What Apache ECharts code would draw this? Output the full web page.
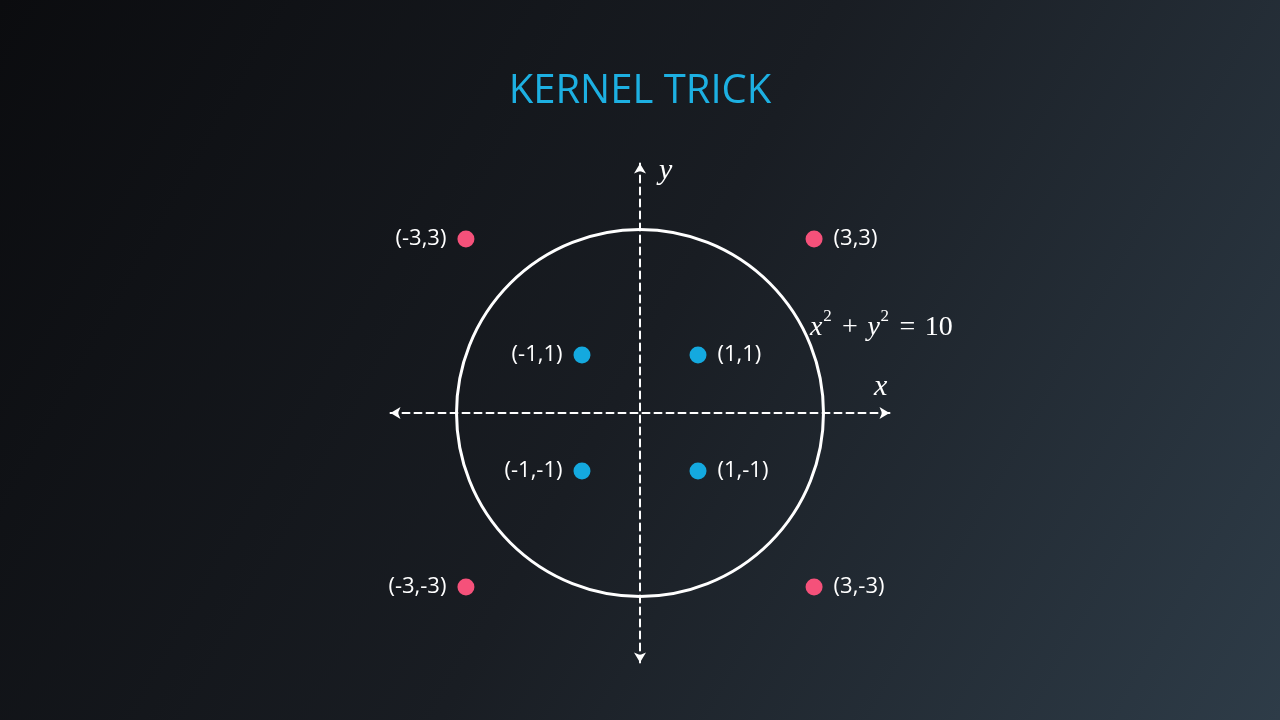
<!DOCTYPE html>
<html>
<head>
<meta charset="UTF-8">
<title>Kernel trick</title>
<script src="https://cdn.jsdelivr.net/npm/echarts@6/dist/echarts.min.js"></script>
<style>
  html, body { margin: 0; padding: 0; background: #15181d; }
  #main { width: 1280px; height: 720px; }
</style>
</head>
<body>
<div id="main"></div>
<script>
// points inside the circle (class A) and outside it (class B)
var innerPoints = [[-1, 1], [1, 1], [-1, -1], [1, -1]];
var outerPoints = [[-3, 3], [3, 3], [-3, -3], [3, -3]];
// separating circle x^2 + y^2 = 10
var circleR2 = 10;
var axisMin = -4.3, axisMax = 4.3;

function toItems(pts) {
  return pts.map(function (p) {
    return { value: p, label: { position: p[0] < 0 ? 'left' : 'right' } };
  });
}

var chart = echarts.init(document.getElementById('main'));

var axisCommon = {
  type: 'value',
  min: axisMin,
  max: axisMax,
  axisLine: {
    show: true,
    onZero: true,
    symbol: ['arrow', 'arrow'],
    symbolSize: [9, 10],
    lineStyle: { color: '#ffffff', width: 2, type: [7, 5] }
  },
  axisTick: { show: false },
  axisLabel: { show: false },
  splitLine: { show: false }
};

var pointLabel = {
  show: true,
  distance: 11,
  color: '#ffffff',
  fontSize: 22,
  fontFamily: 'Open Sans',
  formatter: function (p) { return '(' + p.value[0] + ',' + p.value[1] + ')'; }
};

var serif = 'Liberation Serif';

chart.setOption({
  backgroundColor: new echarts.graphic.LinearGradient(0, 0, 1, 1, [
    { offset: 0, color: '#0b0c0f' },
    { offset: 0.5, color: '#191d23' },
    { offset: 1, color: '#2e3c48' }
  ]),
  title: {
    text: 'KERNEL TRICK',
    left: 'center',
    top: 67,
    textStyle: { color: '#1db0e2', fontSize: 40, fontWeight: 'normal', fontFamily: 'Open Sans' }
  },
  grid: { left: 390.5, top: 163.5, width: 499, height: 499 },
  xAxis: axisCommon,
  yAxis: axisCommon,
  graphic: [
    { type: 'text', left: 874, top: 372,
      style: { text: 'x', fill: '#ffffff', font: 'italic 30px "Liberation Serif"' } },
    { type: 'text', left: 659, top: 156,
      style: { text: 'y', fill: '#ffffff', font: 'italic 30px "Liberation Serif"' } },
    { type: 'text', left: 810, top: 308,
      style: {
        text: '{i|x}{s|2}{n|+}{i|y}{s|2}{n|=}{d|10}',
        rich: {
          i: { fill: '#ffffff', fontFamily: serif, fontStyle: 'italic', fontSize: 28, lineHeight: 34, verticalAlign: 'bottom' },
          n: { fill: '#ffffff', fontFamily: serif, fontSize: 28, lineHeight: 34, verticalAlign: 'bottom', width: 35, align: 'center' },
          d: { fill: '#ffffff', fontFamily: serif, fontSize: 28, lineHeight: 34, verticalAlign: 'bottom' },
          s: { fill: '#ffffff', fontFamily: serif, fontSize: 17, lineHeight: 20, verticalAlign: 'top', width: 10, align: 'center' }
        }
      } }
  ],
  series: [
    {
      type: 'custom',
      silent: true,
      data: [[0, 0, Math.sqrt(circleR2)]],
      renderItem: function (params, api) {
        var c = api.coord([api.value(0), api.value(1)]);
        var r = api.size([api.value(2), 0])[0];
        return {
          type: 'circle',
          shape: { cx: c[0], cy: c[1], r: r },
          style: { fill: 'none', stroke: '#ffffff', lineWidth: 3 }
        };
      },
      z: 1
    },
    {
      name: 'inside',
      type: 'scatter',
      symbolSize: 17,
      itemStyle: { color: '#14a9df', opacity: 1 },
      label: pointLabel,
      data: toItems(innerPoints),
      z: 3
    },
    {
      name: 'outside',
      type: 'scatter',
      symbolSize: 17,
      itemStyle: { color: '#f5517a', opacity: 1 },
      label: pointLabel,
      data: toItems(outerPoints),
      z: 3
    }
  ]
});
window.onresize = chart.resize;
</script>
</body>
</html>
